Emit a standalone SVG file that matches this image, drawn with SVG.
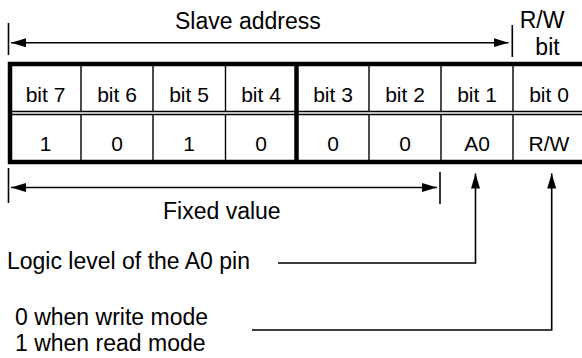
<svg xmlns="http://www.w3.org/2000/svg" width="582" height="358" viewBox="0 0 582 358">
<defs>
<style>
.lbl{font-family:"Liberation Sans",Arial,sans-serif;font-size:23px;fill:#000}
.cell{font-family:"Liberation Sans",Arial,sans-serif;font-size:21px;fill:#000;text-anchor:middle}
.thin{stroke:#000;stroke-width:1.4;fill:none}
.thick{stroke:#000;stroke-width:4.5;fill:none}
.ln{stroke:#000;stroke-width:1.6;fill:none}
</style>
<marker id="ah" markerUnits="userSpaceOnUse" markerWidth="16" markerHeight="10" refX="15" refY="4.5" orient="auto-start-reverse">
<path d="M0,0 L15,4.5 L0,9 Z" fill="#000"/>
</marker>
</defs>
<rect width="582" height="358" fill="#fff"/>

<g id="table">
<g id="header-row">
<line class="thin" x1="81" y1="64" x2="81" y2="111.5"/>
<line class="thin" x1="153" y1="64" x2="153" y2="111.5"/>
<line class="thin" x1="225.5" y1="64" x2="225.5" y2="111.5"/>
<line class="thin" x1="369" y1="64" x2="369" y2="111.5"/>
<line class="thin" x1="441" y1="64" x2="441" y2="111.5"/>
<line class="thin" x1="513" y1="64" x2="513" y2="111.5"/>
<text class="cell" x="45.5" y="102">bit 7</text>
<text class="cell" x="117" y="102">bit 6</text>
<text class="cell" x="189" y="102">bit 5</text>
<text class="cell" x="261" y="102">bit 4</text>
<text class="cell" x="333" y="102">bit 3</text>
<text class="cell" x="405" y="102">bit 2</text>
<text class="cell" x="477" y="102">bit 1</text>
<text class="cell" x="549" y="102">bit 0</text>
</g>
<g id="value-row">
<line class="thin" x1="81" y1="114.5" x2="81" y2="162"/>
<line class="thin" x1="153" y1="114.5" x2="153" y2="162"/>
<line class="thin" x1="225.5" y1="114.5" x2="225.5" y2="162"/>
<line class="thin" x1="369" y1="114.5" x2="369" y2="162"/>
<line class="thin" x1="441" y1="114.5" x2="441" y2="162"/>
<line class="thin" x1="513" y1="114.5" x2="513" y2="162"/>
<text class="cell" x="45.5" y="151">1</text>
<text class="cell" x="117" y="151">0</text>
<text class="cell" x="189" y="151">1</text>
<text class="cell" x="261" y="151">0</text>
<text class="cell" x="333" y="151">0</text>
<text class="cell" x="405" y="151">0</text>
<text class="cell" x="477" y="151">A0</text>
<text class="cell" x="549" y="151">R/W</text>
</g>
<line class="thin" x1="10" y1="111.5" x2="586" y2="111.5"/>
<line class="thin" x1="10" y1="114.5" x2="586" y2="114.5"/>
<line class="thick" x1="296.5" y1="64" x2="296.5" y2="162"/>
<rect class="thick" x="10" y="64" width="576" height="98"/>
</g>

<g id="labels">
<text class="lbl" x="175" y="29">Slave address</text>
<text class="lbl" x="542" y="28" text-anchor="middle">R/W</text>
<text class="lbl" x="547.5" y="55" text-anchor="middle">bit</text>
<text class="lbl" x="163" y="219">Fixed value</text>
<text class="lbl" x="7" y="269">Logic level of the A0 pin</text>
<text class="lbl" x="15" y="325">0 when write mode</text>
<text class="lbl" x="15" y="351">1 when read mode</text>
</g>

<g id="connectors">
<line class="ln" x1="8.5" y1="23" x2="8.5" y2="55"/>
<line class="ln" x1="512.3" y1="25" x2="512.3" y2="57"/>
<line class="ln" x1="11" y1="42.7" x2="508.5" y2="42.7" marker-start="url(#ah)" marker-end="url(#ah)"/>
<line class="ln" x1="8.5" y1="168" x2="8.5" y2="203"/>
<line class="ln" x1="440" y1="172" x2="440" y2="204"/>
<line class="ln" x1="11" y1="187.5" x2="437" y2="187.5" marker-start="url(#ah)" marker-end="url(#ah)"/>
<polyline class="ln" points="278,263 475.5,263 475.5,173.5" marker-end="url(#ah)"/>
<polyline class="ln" points="252,330 551.7,330 551.7,173.5" marker-end="url(#ah)"/>
</g>
</svg>
